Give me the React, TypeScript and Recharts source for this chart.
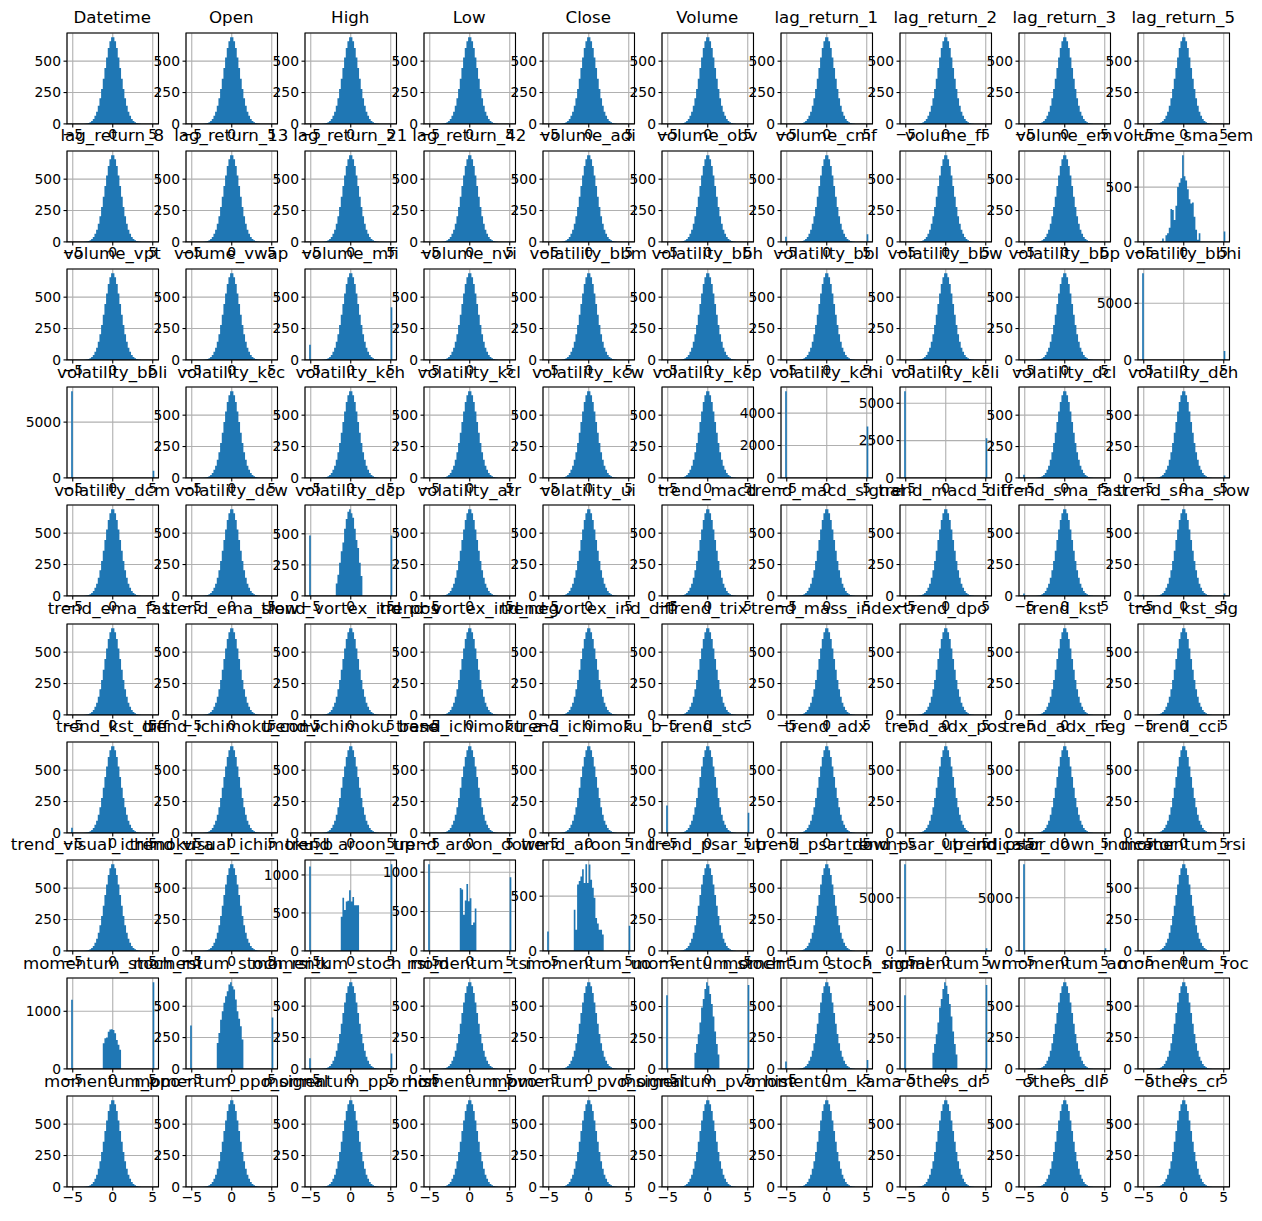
import React from "react";
import { ComposedChart, Area, XAxis, YAxis, CartesianGrid, ReferenceArea } from "recharts";

// 10 x 10 grid of histograms, one per feature, 50 bins over the clipped range
const columnNames: string[] = [
  "Datetime", "Open", "High", "Low", "Close", "Volume", "lag_return_1", "lag_return_2", "lag_return_3", "lag_return_5",
  "lag_return_8", "lag_return_13", "lag_return_21", "lag_return_42", "volume_adi", "volume_obv", "volume_cmf", "volume_fi", "volume_em", "volume_sma_em",
  "volume_vpt", "volume_vwap", "volume_mfi", "volume_nvi", "volatility_bbm", "volatility_bbh", "volatility_bbl", "volatility_bbw", "volatility_bbp", "volatility_bbhi",
  "volatility_bbli", "volatility_kcc", "volatility_kch", "volatility_kcl", "volatility_kcw", "volatility_kcp", "volatility_kchi", "volatility_kcli", "volatility_dcl", "volatility_dch",
  "volatility_dcm", "volatility_dcw", "volatility_dcp", "volatility_atr", "volatility_ui", "trend_macd", "trend_macd_signal", "trend_macd_diff", "trend_sma_fast", "trend_sma_slow",
  "trend_ema_fast", "trend_ema_slow", "trend_vortex_ind_pos", "trend_vortex_ind_neg", "trend_vortex_ind_diff", "trend_trix", "trend_mass_index", "trend_dpo", "trend_kst", "trend_kst_sig",
  "trend_kst_diff", "trend_ichimoku_conv", "trend_ichimoku_base", "trend_ichimoku_a", "trend_ichimoku_b", "trend_stc", "trend_adx", "trend_adx_pos", "trend_adx_neg", "trend_cci",
  "trend_visual_ichimoku_a", "trend_visual_ichimoku_b", "trend_aroon_up", "trend_aroon_down", "trend_aroon_ind", "trend_psar_up", "trend_psar_down", "trend_psar_up_indicator", "trend_psar_down_indicator", "momentum_rsi",
  "momentum_stoch_rsi", "momentum_stoch_rsi_k", "momentum_stoch_rsi_d", "momentum_tsi", "momentum_uo", "momentum_stoch", "momentum_stoch_signal", "momentum_wr", "momentum_ao", "momentum_roc",
  "momentum_ppo", "momentum_ppo_signal", "momentum_ppo_hist", "momentum_pvo", "momentum_pvo_signal", "momentum_pvo_hist", "momentum_kama", "others_dr", "others_dlr", "others_cr",
];

const binLow = -5.1993;
const binHigh = 5.1993;
const xTicks = [-5, 0, 5];

// bell shaped panels (most of them), bins 0..49
const bellCounts = [
  0, 0, 0, 0, 0, 0, 0, 0, 1, 3,
  7, 13, 24, 39, 64, 97, 144, 205, 278, 360,
  446, 530, 604, 659, 690, 690, 659, 604, 530, 446,
  360, 278, 205, 144, 97, 64, 39, 24, 13, 7,
  3, 1, 0, 0, 0, 0, 0, 0, 0, 0,
];

const emptyCounts = [
  0, 0, 0, 0, 0, 0, 0, 0, 0, 0,
  0, 0, 0, 0, 0, 0, 0, 0, 0, 0,
  0, 0, 0, 0, 0, 0, 0, 0, 0, 0,
  0, 0, 0, 0, 0, 0, 0, 0, 0, 0,
  0, 0, 0, 0, 0, 0, 0, 0, 0, 0,
];

const volumeSmaEmCounts = [
  0, 0, 0, 0, 0, 0, 0, 0, 0, 0,
  0, 3, 30, 0, 60, 80, 130, 300, 290, 200,
  330, 500, 540, 580, 790, 600, 560, 480, 390, 350,
  360, 230, 110, 20, 80, 0, 0, 0, 0, 0,
  0, 0, 0, 0, 0, 0, 0, 0, 0, 95,
];

const dcpCounts = [
  487, 0, 0, 0, 0, 0, 0, 0, 0, 0,
  0, 0, 0, 0, 0, 0, 100, 170, 266, 359,
  430, 540, 620, 678, 697, 665, 630, 540, 450, 386,
  266, 160, 0, 0, 0, 0, 0, 0, 0, 0,
  0, 0, 0, 0, 0, 0, 0, 0, 0, 487,
];

const aroonUpCounts = [
  1110, 0, 0, 0, 0, 0, 0, 0, 0, 0,
  0, 0, 0, 0, 0, 0, 0, 0, 0, 450,
  700, 540, 650, 660, 800, 650, 710, 600, 600, 600,
  0, 0, 0, 0, 0, 0, 0, 0, 0, 0,
  0, 0, 0, 0, 0, 0, 0, 0, 0, 1140,
];

const aroonDownCounts = [
  1100, 0, 0, 0, 0, 0, 0, 0, 0, 0,
  0, 0, 0, 0, 0, 0, 0, 0, 0, 800,
  780, 460, 640, 850, 630, 670, 330, 360, 540, 0,
  0, 0, 0, 0, 0, 0, 0, 0, 0, 0,
  0, 0, 0, 0, 0, 0, 0, 0, 0, 936,
];

const aroonIndCounts = [
  178, 0, 0, 0, 0, 0, 0, 0, 0, 0,
  0, 0, 0, 0, 0, 0, 377, 193, 607, 638,
  680, 745, 620, 791, 620, 790, 650, 577, 485, 300,
  250, 193, 193, 150, 0, 0, 0, 0, 0, 0,
  0, 0, 0, 0, 0, 0, 0, 0, 0, 230,
];

const stochRsiCounts = [
  1200, 0, 0, 0, 0, 0, 0, 0, 0, 0,
  0, 0, 0, 0, 0, 0, 0, 0, 0, 446,
  531, 546, 646, 686, 690, 674, 617, 503, 420, 331,
  0, 0, 0, 0, 0, 0, 0, 0, 0, 0,
  0, 0, 0, 0, 0, 0, 0, 0, 0, 1503,
];

const stochRsiKCounts = [
  346, 0, 0, 0, 0, 0, 0, 0, 0, 0,
  0, 0, 0, 0, 0, 0, 207, 287, 393, 460,
  527, 580, 620, 673, 691, 660, 633, 553, 460, 400,
  340, 234, 0, 0, 0, 0, 0, 0, 0, 0,
  0, 0, 0, 0, 0, 0, 0, 0, 0, 410,
];

const stochCounts = [
  590, 0, 0, 0, 0, 0, 0, 0, 0, 0,
  0, 0, 0, 0, 0, 0, 0, 130, 200, 277,
  371, 492, 560, 640, 694, 667, 600, 520, 420, 300,
  200, 116, 0, 0, 0, 0, 0, 0, 0, 0,
  0, 0, 0, 0, 0, 0, 0, 0, 0, 672,
];

// bell panels with single bars at the two clip edges: [left, right]
const edgeBarCounts: Record<string, [number, number]> = {
  volume_cmf: [40, 60],
  volume_mfi: [120, 420],
  volatility_dcl: [25, 0],
  volatility_dch: [10, 20],
  trend_sma_fast: [20, 0],
  trend_sma_slow: [10, 20],
  trend_kst_diff: [40, 0],
  trend_stc: [218, 160],
  momentum_stoch_rsi_d: [85, 122],
  momentum_stoch_signal: [59, 70],
};

// panels that are only the two edge bars: [left, right]
const twoBarCounts: Record<string, [number, number]> = {
  volatility_bbhi: [7650, 790],
  volatility_bbli: [7760, 630],
  volatility_kchi: [5350, 3170],
  volatility_kcli: [5800, 2650],
  trend_psar_up_indicator: [8150, 260],
  trend_psar_down_indicator: [8150, 260],
};

const shapedCounts: Record<string, number[]> = {
  volume_sma_em: volumeSmaEmCounts,
  volatility_dcp: dcpCounts,
  trend_aroon_up: aroonUpCounts,
  trend_aroon_down: aroonDownCounts,
  trend_aroon_ind: aroonIndCounts,
  momentum_stoch_rsi: stochRsiCounts,
  momentum_stoch_rsi_k: stochRsiKCounts,
  momentum_stoch: stochCounts,
  momentum_wr: stochCounts,
};

function withEdges(base: number[], left: number, right: number) {
  const out = base.slice();
  out[0] = left;
  out[out.length - 1] = right;
  return out;
}

function countsFor(name: string) {
  if (shapedCounts[name]) return shapedCounts[name];
  if (twoBarCounts[name]) return withEdges(emptyCounts, ...twoBarCounts[name]);
  if (edgeBarCounts[name]) return withEdges(bellCounts, ...edgeBarCounts[name]);
  return bellCounts;
}

// matplotlib-ish MaxNLocator for the count axis
function countTicks(top: number) {
  const raw = top / 3;
  const mag = Math.pow(10, Math.floor(Math.log10(raw)));
  let step = 10 * mag;
  for (const s of [1, 2, 2.5, 5, 10]) {
    if (s * mag >= raw) {
      step = s * mag;
      break;
    }
  }
  const out: number[] = [];
  for (let v = 0; v <= top; v += step) out.push(v);
  return out;
}

const PANEL_W = 91.5;
const PANEL_H = 90.9;
const COL_PITCH = 119;
const ROW_PITCH = 118.2;
const ORIGIN_X = 66.5;
const ORIGIN_Y = 32.5;
const Y_AXIS_W = 50;
const X_AXIS_H = 24;
const TOP_PAD = 4;
const RIGHT_PAD = 4;
const TICK_LEN = 3.5;
const FONT = "'DejaVu Sans', sans-serif";
const BAR_COLOR = "#1f77b4";

const fmt = (v: number) => (v < 0 ? "\u2212" + Math.abs(v) : String(v));

const XTick = (props: any) => {
  const { x, y, payload } = props;
  return (
    <text x={x} y={y} dy={15 - TICK_LEN} textAnchor="middle" fontSize={13.9} fontFamily={FONT} fill="#000">
      {fmt(payload.value)}
    </text>
  );
};

const YTick = (props: any) => {
  const { x, y, payload } = props;
  return (
    <text x={x} y={y} dx={TICK_LEN - 6} dy={4.9} textAnchor="end" fontSize={13.9} fontFamily={FONT} fill="#000">
      {fmt(payload.value)}
    </text>
  );
};

function Panel({ name, index }: { name: string; index: number }) {
  const col = index % 10;
  const row = Math.floor(index / 10);
  const left = ORIGIN_X + col * COL_PITCH;
  const top = ORIGIN_Y + row * ROW_PITCH;
  const counts = countsFor(name);
  const width = (binHigh - binLow) / counts.length;
  const data = counts.map((c, i) => ({ edge: binLow + i * width, count: c }));
  data.push({ edge: binHigh, count: counts[counts.length - 1] });
  const margin = (binHigh - binLow) * 0.05;
  const xMin = binLow - margin;
  const xMax = binHigh + margin;
  const yTop = Math.max(...counts) * 1.05;
  const yTicks = countTicks(yTop);

  return (
    <>
      <div
        style={{
          position: "absolute",
          left: left + PANEL_W / 2,
          top: top - 8.5 - 14.1,
          transform: "translateX(-50%)",
          whiteSpace: "nowrap",
          fontFamily: FONT,
          fontSize: 16.67,
          lineHeight: "16.67px",
          color: "#000",
        }}
      >
        {name}
      </div>
      <div style={{ position: "absolute", left: left - Y_AXIS_W, top: top - TOP_PAD }}>
        <ComposedChart
          width={Y_AXIS_W + PANEL_W + RIGHT_PAD}
          height={TOP_PAD + PANEL_H + X_AXIS_H}
          data={data}
          margin={{ top: TOP_PAD, right: RIGHT_PAD, bottom: 0, left: 0 }}
        >
          <XAxis
            type="number"
            dataKey="edge"
            domain={[xMin, xMax]}
            allowDataOverflow
            ticks={xTicks}
            interval={0}
            height={X_AXIS_H}
            tickSize={TICK_LEN}
            tickMargin={0}
            tick={<XTick />}
            axisLine={false}
            tickLine={{ stroke: "#000", strokeWidth: 1.1 }}
          />
          <YAxis
            type="number"
            domain={[0, yTop]}
            allowDataOverflow
            ticks={yTicks}
            interval={0}
            width={Y_AXIS_W}
            tickSize={TICK_LEN}
            tickMargin={0}
            tick={<YTick />}
            axisLine={false}
            tickLine={{ stroke: "#000", strokeWidth: 1.1 }}
          />
          <Area
            type="stepAfter"
            dataKey="count"
            fill={BAR_COLOR}
            fillOpacity={1}
            stroke="none"
            dot={false}
            activeDot={false}
            isAnimationActive={false}
          />
          <CartesianGrid stroke="#b0b0b0" strokeWidth={1.1} />
          <ReferenceArea
            x1={xMin}
            x2={xMax}
            y1={0}
            y2={yTop}
            fill="none"
            stroke="#000"
            strokeWidth={1.1}
            ifOverflow="visible"
          />
        </ComposedChart>
      </div>
    </>
  );
}

export default function App() {
  return (
    <div style={{ position: "absolute", left: 0, top: 0, width: 1262, height: 1221, background: "#fff" }}>
      {columnNames.map((name, i) => (
        <Panel key={name} name={name} index={i} />
      ))}
    </div>
  );
}
